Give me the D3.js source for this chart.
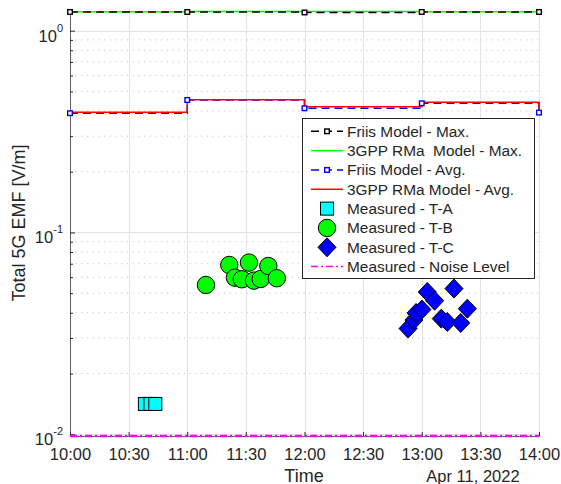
<!DOCTYPE html>
<html>
<head>
<meta charset="utf-8">
<script src="https://cdn.jsdelivr.net/npm/d3@7"></script>
<style>
  body { margin: 0; background: #fff; }
  text { font-family: "Liberation Sans", Arial, Helvetica, sans-serif; fill: #262626; }
</style>
</head>
<body>
<div id="chart"></div>
<script>
// model time steps (hourly) and model predictions
const modelTimes = ["10:00:00", "11:00:00", "12:00:00", "13:00:00", "14:00:00"];
const friisMax = [1.238, 1.238, 1.231, 1.238, 1.238];
const rmaMax = [1.240, 1.243, 1.243, 1.240, 1.240];
const friisAvg = [0.390, 0.4535, 0.4125, 0.4367, 0.3925];
const rmaAvg = [0.394, 0.455, 0.420, 0.4417, 0.3925];

// measurements
const taTimes = ["10:38:20", "10:41:10", "10:43:40"];
const taValues = [0.01413, 0.01413, 0.01413];

const tbTimes = ["11:09:35", "11:21:30", "11:24:25", "11:27:55", "11:31:35", "11:34:10", "11:37:35", "11:41:30", "11:45:50"];
const tbValues = [0.0549, 0.0690, 0.0597, 0.0586, 0.0709, 0.0577, 0.0588, 0.0682, 0.0593];

const tcTimes = ["12:53:00", "12:56:00", "12:57:05", "13:00:05", "13:02:50", "13:06:35", "13:10:00", "13:13:05", "13:16:30", "13:19:55", "13:23:20"];
const tcValues = [0.0334, 0.0368, 0.0399, 0.0415, 0.0507, 0.0459, 0.0374, 0.0360, 0.0527, 0.0356, 0.0419];

const noiseTimes = ["10:00:00", "14:00:00"];
const noiseValues = [0.0098, 0.0098];

// axis ticks
const xTickTimes = ["10:00:00", "10:30:00", "11:00:00", "11:30:00", "12:00:00", "12:30:00", "13:00:00", "13:30:00", "14:00:00"];
const yMajorTicks = [0.01, 0.1, 1];
const yTickExponents = ["-2", "-1", "0"];

const legendLabels = [
    "Friis Model - Max.",
    "3GPP RMa  Model - Max.",
    "Friis Model - Avg.",
    "3GPP RMa Model - Avg.",
    "Measured - T-A",
    "Measured - T-B",
    "Measured - T-C",
    "Measured - Noise Level"
];

const parseTime = d3.timeParse("%Y-%m-%d %H:%M:%S");
const t = s => parseTime("2022-04-11 " + s);

const width = 561, height = 484;
const plot = { left: 70, right: 539, top: 10, bottom: 436 };

const svg = d3.select("#chart").append("svg")
    .attr("width", width)
    .attr("height", height);

const x = d3.scaleTime()
    .domain([t("10:00:00"), t("14:00:00")])
    .range([plot.left, plot.right]);

const y = d3.scaleLog()
    .domain([0.0098, 1.266])
    .range([plot.bottom, plot.top]);

// minor grid values 2..9 per decade
const yMinor = [];
[0.01, 0.1].forEach(dec => {
    for (let k = 2; k <= 9; k++) yMinor.push(dec * k);
});

// grid
const grid = svg.append("g");
grid.selectAll(".ymin").data(yMinor).enter().append("line")
    .attr("x1", plot.left).attr("x2", plot.right)
    .attr("y1", d => y(d)).attr("y2", d => y(d))
    .attr("stroke", "#bdbdbd")
    .attr("stroke-width", 1)
    .attr("stroke-dasharray", "1,4.7");

grid.selectAll(".ymaj").data(yMajorTicks).enter().append("line")
    .attr("x1", plot.left).attr("x2", plot.right)
    .attr("y1", d => Math.round(y(d)) + 0.5).attr("y2", d => Math.round(y(d)) + 0.5)
    .attr("stroke", "#e3e3e3")
    .attr("stroke-width", 1);

grid.selectAll(".xmaj").data(xTickTimes).enter().append("line")
    .attr("x1", d => Math.round(x(t(d))) + 0.5).attr("x2", d => Math.round(x(t(d))) + 0.5)
    .attr("y1", plot.top).attr("y2", plot.bottom)
    .attr("stroke", "#e3e3e3")
    .attr("stroke-width", 1);

// axes
const yAxis = d3.axisLeft(y)
    .tickValues(yMinor.concat(yMajorTicks))
    .tickSizeInner(0)
    .tickSizeOuter(0)
    .tickFormat("");
const yAxisG = svg.append("g")
    .attr("transform", `translate(${plot.left},0)`)
    .call(yAxis);
yAxisG.select(".domain").attr("stroke", "#606060");
yAxisG.selectAll(".tick line")
    .attr("x2", d => yMajorTicks.includes(d) ? 5 : 3)
    .attr("stroke", "#262626");

// y tick labels as 10^n
yMajorTicks.forEach((v, i) => {
    const lbl = svg.append("text")
        .attr("x", 63)
        .attr("y", y(v) + 11)
        .attr("text-anchor", "end")
        .style("font-size", "16.5px");
    lbl.append("tspan").text("10");
    lbl.append("tspan")
        .attr("dy", -10)
        .style("font-size", "11px")
        .text(yTickExponents[i]);
});

const xAxis = d3.axisBottom(x)
    .tickValues(xTickTimes.map(t))
    .tickSizeInner(-4)
    .tickSizeOuter(0)
    .tickPadding(12)
    .tickFormat(d3.timeFormat("%H:%M"));
const xAxisG = svg.append("g")
    .attr("transform", `translate(0,${plot.bottom})`)
    .call(xAxis);
xAxisG.select(".domain").attr("stroke", "#606060");
xAxisG.selectAll(".tick line").attr("stroke", "#262626");
xAxisG.selectAll(".tick text")
    .style("font-size", "16.5px")
    .style("font-family", "'Liberation Sans', Arial, sans-serif")
    .attr("fill", "#262626");

// axis labels
svg.append("text")
    .attr("x", 304)
    .attr("y", 481.5)
    .attr("text-anchor", "middle")
    .style("font-size", "18px")
    .text("Time");

svg.append("text")
    .attr("x", 473)
    .attr("y", 481.5)
    .attr("text-anchor", "middle")
    .style("font-size", "16.5px")
    .text("Apr 11, 2022");

svg.append("text")
    .attr("transform", `translate(25,${(plot.top + plot.bottom) / 2}) rotate(-90)`)
    .attr("text-anchor", "middle")
    .style("font-size", "18px")
    .text("Total 5G EMF [V/m]");

// model lines as stairs
const stair = vals => d3.line()
    .x((d, i) => x(t(modelTimes[i])))
    .y(d => y(d))
    .curve(d3.curveStepAfter)(vals);

const series = svg.append("g");

series.append("path")
    .attr("d", stair(rmaMax))
    .attr("fill", "none").attr("stroke", "#00ff00").attr("stroke-width", 1.5);
series.append("path")
    .attr("d", stair(friisMax))
    .attr("fill", "none").attr("stroke", "#000").attr("stroke-width", 1.5)
    .attr("stroke-dasharray", "8,5");

series.append("path")
    .attr("d", stair(friisAvg))
    .attr("fill", "none").attr("stroke", "#0000ff").attr("stroke-width", 1.5)
    .attr("stroke-dasharray", "8,5");
series.append("path")
    .attr("d", stair(rmaAvg))
    .attr("fill", "none").attr("stroke", "#ff0000").attr("stroke-width", 1.5);

// small open square markers on the Friis points
function smallSquares(vals, color) {
    series.selectAll(null).data(vals).enter().append("rect")
        .attr("x", (d, i) => x(t(modelTimes[i])) - 2.3)
        .attr("y", d => y(d) - 2.3)
        .attr("width", 4.6).attr("height", 4.6)
        .attr("fill", "#fff")
        .attr("stroke", color)
        .attr("stroke-width", 1.4);
}
smallSquares(friisMax, "#000");
smallSquares(friisAvg, "#0000ff");

// measured T-A squares
const sq = 13;
series.selectAll(null).data(taValues).enter().append("rect")
    .attr("x", (d, i) => x(t(taTimes[i])) - sq / 2)
    .attr("y", d => y(d) - sq / 2)
    .attr("width", sq).attr("height", sq)
    .attr("fill", "#00ffff")
    .attr("stroke", "#000")
    .attr("stroke-width", 1);

// measured T-B circles
series.selectAll(null).data(tbValues).enter().append("circle")
    .attr("cx", (d, i) => x(t(tbTimes[i])))
    .attr("cy", d => y(d))
    .attr("r", 8.7)
    .attr("fill", "#00ff00")
    .attr("stroke", "#000")
    .attr("stroke-width", 1);

// measured T-C diamonds
const diamond = (cx, cy, r) => `M${cx},${cy - r}L${cx + r * 0.95},${cy}L${cx},${cy + r}L${cx - r * 0.95},${cy}Z`;
series.selectAll(null).data(tcValues).enter().append("path")
    .attr("d", (d, i) => diamond(x(t(tcTimes[i])), y(d), 9.5))
    .attr("fill", "#0000ff")
    .attr("stroke", "#000")
    .attr("stroke-width", 1);

// noise level
series.append("path")
    .attr("d", d3.line()
        .x((d, i) => x(t(noiseTimes[i])))
        .y(d => y(d))(noiseValues))
    .attr("fill", "none")
    .attr("stroke", "#ff00ff")
    .attr("stroke-width", 2.5)
    .attr("stroke-dasharray", "7,3,2,3");

// legend
const legend = svg.append("g");
legend.append("rect")
    .attr("x", 302.5).attr("y", 118.5)
    .attr("width", 232).attr("height", 160)
    .attr("fill", "#fff")
    .attr("stroke", "#262626")
    .attr("stroke-width", 1);

const row0 = 131.3, rowStep = 19.33, sx0 = 311, sx1 = 343, mx = 327;
legendLabels.forEach((label, i) => {
    const ry = row0 + i * rowStep;
    const g = legend.append("g");
    if (i === 0 || i === 2) {
        const c = i === 0 ? "#000" : "#0000ff";
        g.append("line").attr("x1", sx0).attr("x2", sx1).attr("y1", ry).attr("y2", ry)
            .attr("stroke", c).attr("stroke-width", 1.5).attr("stroke-dasharray", "8,5");
        g.append("rect").attr("x", mx - 2.3).attr("y", ry - 2.3).attr("width", 4.6).attr("height", 4.6)
            .attr("fill", "#fff").attr("stroke", c).attr("stroke-width", 1.4);
    } else if (i === 1 || i === 3) {
        g.append("line").attr("x1", sx0).attr("x2", sx1).attr("y1", ry).attr("y2", ry)
            .attr("stroke", i === 1 ? "#00ff00" : "#ff0000").attr("stroke-width", 1.5);
    } else if (i === 4) {
        g.append("rect").attr("x", mx - 6.5).attr("y", ry - 6.5).attr("width", 13).attr("height", 13)
            .attr("fill", "#00ffff").attr("stroke", "#000");
    } else if (i === 5) {
        g.append("circle").attr("cx", mx).attr("cy", ry).attr("r", 8.7)
            .attr("fill", "#00ff00").attr("stroke", "#000");
    } else if (i === 6) {
        g.append("path").attr("d", diamond(mx, ry, 9.5))
            .attr("fill", "#0000ff").attr("stroke", "#000");
    } else {
        g.append("line").attr("x1", sx0).attr("x2", sx1).attr("y1", ry).attr("y2", ry)
            .attr("stroke", "#ff00ff").attr("stroke-width", 1.5).attr("stroke-dasharray", "7,3,2,3");
    }
    g.append("text")
        .attr("x", 347)
        .attr("y", ry + 5.5)
        .attr("xml:space", "preserve")
        .style("white-space", "pre")
        .style("font-size", "15.4px")
        .text(label);
});
</script>
</body>
</html>
